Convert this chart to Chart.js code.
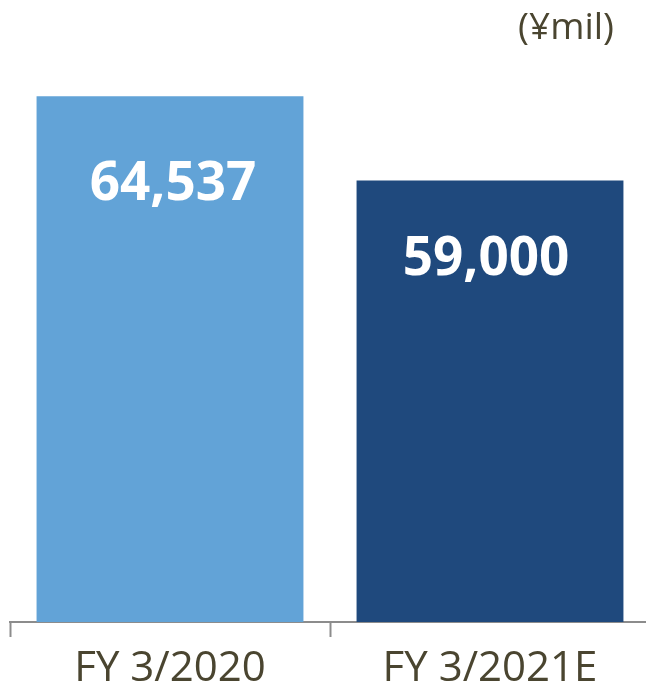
<!DOCTYPE html>
<html>
<head>
<meta charset="utf-8">
<script src="https://cdn.jsdelivr.net/npm/chart.js@4"></script>
<style>
  html, body { margin: 0; padding: 0; background: #fff; }
  #wrap { width: 646px; height: 685px; overflow: hidden; position: relative; }
  canvas { display: block; }
</style>
</head>
<body>
<div id="wrap"><canvas id="grafico" width="660" height="685"></canvas></div>
<script>
// categorias e valores (em milhoes de yen)
const categorias = ['FY 3/2020', 'FY 3/2021E'];
const valores = [64537, 59000];
const cores = ['#62a3d7', '#1f497d'];
const unidade = '(¥mil)';

const corTexto = '#4a4530';

// escreve o valor dentro de cada barra
const rotulosBarra = {
  id: 'rotulosBarra',
  afterDatasetsDraw(chart, args, opts) {
    const ctx = chart.ctx;
    const meta = chart.getDatasetMeta(0);
    ctx.save();
    ctx.fillStyle = '#fff';
    ctx.font = 'bold 53px "Open Sans"';
    ctx.textAlign = 'center';
    ctx.textBaseline = 'middle';
    meta.data.forEach((bar, i) => {
      const v = chart.data.datasets[0].data[i];
      ctx.fillText(v.toLocaleString('en-US'), bar.x + opts.dx[i], bar.y + opts.dy[i]);
    });
    ctx.restore();
  }
};

// unidade no canto de cima
const textoUnidade = {
  id: 'textoUnidade',
  afterDraw(chart) {
    const ctx = chart.ctx;
    ctx.save();
    ctx.fillStyle = corTexto;
    ctx.font = '37px "Open Sans"';
    ctx.textAlign = 'right';
    ctx.textBaseline = 'middle';
    ctx.fillText(unidade, 614, 28);
    ctx.restore();
  }
};

var grafico = new Chart(document.getElementById('grafico'), {
  type: 'bar',
  data: {
    labels: categorias,
    datasets: [{
      data: valores,
      backgroundColor: cores,
      borderWidth: 0,
      categoryPercentage: 1,
      barPercentage: 0.834
    }]
  },
  options: {
    responsive: false,
    animation: false,
    layout: { padding: { left: 10, right: 10, top: 13, bottom: 0 } },
    plugins: {
      legend: { display: false },
      tooltip: { enabled: false },
      rotulosBarra: { dx: [3, -4], dy: [89, 79] }
    },
    scales: {
      x: {
        afterFit: s => { s.height = 63; },
        grid: {
          offset: true,
          drawOnChartArea: false,
          tickLength: 15,
          tickWidth: 2,
          tickColor: '#8c8c8c'
        },
        border: { color: '#8c8c8c', width: 2 },
        ticks: {
          color: corTexto,
          padding: 7,
          font: { family: '"Open Sans"', size: 42 }
        }
      },
      y: {
        display: false,
        min: 30000,
        max: 70000
      }
    }
  },
  plugins: [rotulosBarra, textoUnidade]
});
</script>
</body>
</html>
